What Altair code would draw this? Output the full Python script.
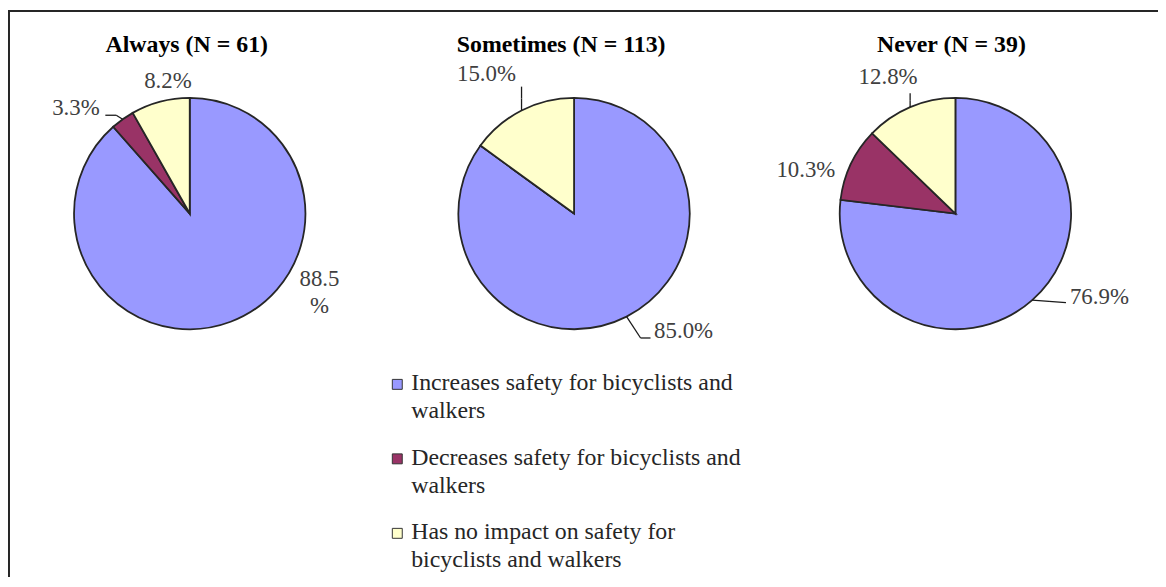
import math
import altair as alt
import pandas as pd

# ---------------- data ----------------
PANELS = ["Always (N = 61)", "Sometimes (N = 113)", "Never (N = 39)"]
CATEGORIES = [
    "Increases safety for bicyclists and walkers",
    "Decreases safety for bicyclists and walkers",
    "Has no impact on safety for bicyclists and walkers",
]
LEGEND_TEXT = [
    "Increases safety for bicyclists  and\nwalkers",
    "Decreases safety for bicyclists  and\nwalkers",
    "Has no impact on safety for\nbicyclists  and walkers",
]
INCREASES = [88.5, 85.0, 76.9]
DECREASES = [3.3, 0.0, 10.3]
NO_IMPACT = [8.2, 15.0, 12.8]
COLORS = ["#9999FF", "#993366", "#FFFFCC"]

# ---------------- layout ----------------
W, H = 1158, 571
PIE_CX = [183, 570, 954]
PIE_CY = 205
R = 116.5
TITLE_DX = [-3, -13, -4]
TITLE_Y = 35
FONT = "Liberation Serif"
# offset of each label (first line centre) from its slice's mid-arc point
LABEL_OFFSET = {(0, 0): (89.5, -43.5), (0, 1): (-47, -11.6), (0, 2): (7.7, -20.3),
                (1, 0): (57.4, 14.5), (1, 2): (-35.3, -36.4),
                (2, 0): (67.7, -3.4), (2, 1): (-45.3, 6.1), (2, 2): (-22.2, -30)}
# leader line: elbow and end offsets from the mid-arc point
LEADER = {(0, 1): ((-6.4, -4.1), (-17.4, -4.1)),
          (1, 0): ((14.1, 21.5), (24.1, 21.5)),
          (1, 2): ((0, -12), (0, -24)),
          (2, 0): ((17, 1.3), (34, 2.6)),
          (2, 2): ((0, -7), (0, -14))}
WRAPPED = {(0, 0)}

rows = []
series = [INCREASES, DECREASES, NO_IMPACT]
for p, panel in enumerate(PANELS):
    for c, cat in enumerate(CATEGORIES):
        v = series[c][p]
        lab = f"{v:.1f}%"
        if (p, c) in WRAPPED:
            lab = f"{v:.1f}\n%"
        ldx, ldy = LABEL_OFFSET.get((p, c), (0, 0))
        (e1x, e1y), (e2x, e2y) = LEADER.get((p, c), ((0, 0), (0, 0)))
        rows.append(dict(panel=panel, pidx=p, category=cat, cidx=c, value=v,
                         label=lab, cx=PIE_CX[p], cy=PIE_CY, ldx=ldx, ldy=ldy,
                         leader=(p, c) in LEADER, e1x=e1x, e1y=e1y, e2x=e2x, e2y=e2y))
df = pd.DataFrame(rows)

color_scale = alt.Scale(domain=CATEGORIES, range=COLORS)

base = (
    alt.Chart(df)
    .transform_window(cum="sum(value)", groupby=["panel"], sort=[alt.SortField("cidx")])
    .transform_calculate(start="datum.cum - datum.value")
    .transform_calculate(ang="2*PI*(datum.start + datum.cum)/200")
    .transform_calculate(px=f"datum.cx + {R}*sin(datum.ang)",
                         py=f"datum.cy - {R}*cos(datum.ang)")
)

arcs = base.mark_arc(radius=R, stroke="#262626", strokeWidth=1.8).encode(
    x=alt.X("cx:Q", scale=None),
    y=alt.Y("cy:Q", scale=None),
    theta=alt.Theta("start:Q", stack=None,
                    scale=alt.Scale(domain=[0, 100], range=[0, 2 * math.pi])),
    theta2="cum:Q",
    color=alt.Color("category:N", scale=color_scale, legend=None),
)

labels = (
    base.transform_filter("datum.value > 0")
    .transform_calculate(tx="datum.px + datum.ldx", ty="datum.py + datum.ldy")
    .mark_text(font=FONT, fontSize=23, color="#404040", align="center",
               baseline="middle", lineBreak="\n", lineHeight=28)
    .encode(x=alt.X("tx:Q", scale=None), y=alt.Y("ty:Q", scale=None), text="label:N")
)

lead = base.transform_filter("datum.leader").transform_calculate(
    x1="datum.px + datum.e1x", y1="datum.py + datum.e1y",
    x2="datum.px + datum.e2x", y2="datum.py + datum.e2y")
seg1 = lead.mark_rule(color="#1a1a1a", strokeWidth=1.3).encode(
    x=alt.X("px:Q", scale=None), y=alt.Y("py:Q", scale=None), x2="x1:Q", y2="y1:Q")
seg2 = lead.mark_rule(color="#1a1a1a", strokeWidth=1.3).encode(
    x=alt.X("x1:Q", scale=None), y=alt.Y("y1:Q", scale=None), x2="x2:Q", y2="y2:Q")

tdf = pd.DataFrame(dict(title=PANELS, tx=[PIE_CX[i] + TITLE_DX[i] for i in range(3)]))
titles = alt.Chart(tdf).mark_text(font=FONT, fontSize=24, fontWeight="bold", color="#000000",
                                  align="center", baseline="middle").encode(
    x=alt.X("tx:Q", scale=None), y=alt.value(TITLE_Y), text="title:N")

ldf = pd.DataFrame(dict(category=CATEGORIES, text=LEGEND_TEXT, idx=[0, 1, 2]))
leg_base = alt.Chart(ldf).transform_calculate(ly="377 + 75*datum.idx")
leg_sq = leg_base.mark_square(size=100, stroke="#333333", strokeWidth=1, opacity=1).encode(
    x=alt.value(392), y=alt.Y("ly:Q", scale=None),
    color=alt.Color("category:N", scale=color_scale, legend=None))
leg_txt = leg_base.transform_calculate(ty="datum.ly + 6").mark_text(
    font=FONT, fontSize=24, color="#262626", align="left", baseline="alphabetic",
    lineBreak="\n", lineHeight=28).encode(
    x=alt.value(406), y=alt.Y("ty:Q", scale=None), text="text:N")

fdf = pd.DataFrame({"a": [0]})
frame_top = alt.Chart(fdf).mark_rule(color="#262626", strokeWidth=2).encode(
    x=alt.value(0), x2=alt.value(W), y=alt.value(1))
frame_left = alt.Chart(fdf).mark_rule(color="#262626", strokeWidth=2).encode(
    x=alt.value(1), y=alt.value(0), y2=alt.value(H))

chart = (
    alt.layer(arcs, seg1, seg2, labels, titles, leg_sq, leg_txt, frame_top, frame_left)
    .properties(width=W, height=H, autosize=alt.AutoSizeParams(type="none"), padding=0)
    .configure_view(stroke=None)
)

chart.save("out.html", embed_options={"renderer": "svg", "actions": False})
